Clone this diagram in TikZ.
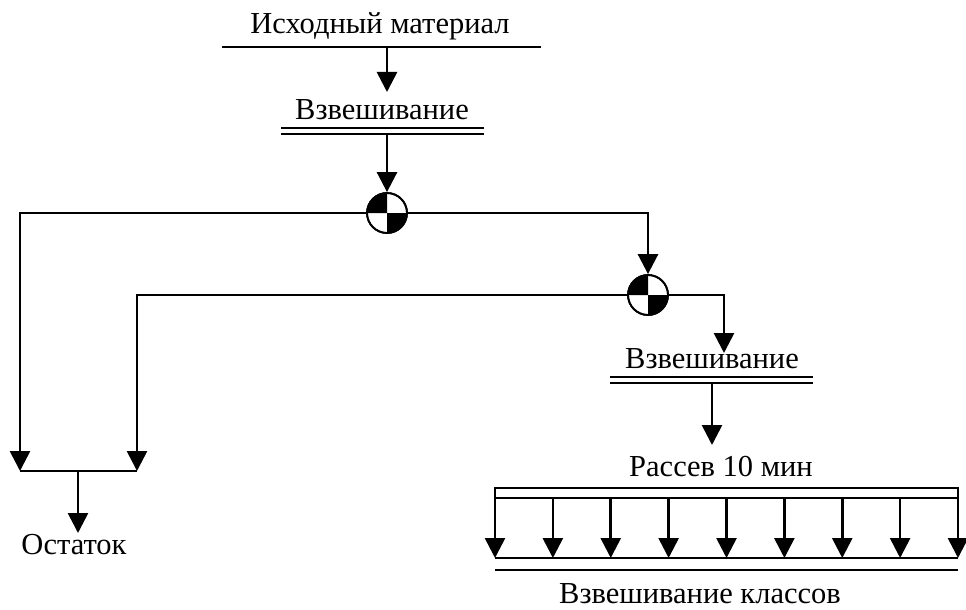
\documentclass[tikz,border=0pt]{standalone}
\usepackage{fontspec}
\setmainfont{Liberation Serif}
\usetikzlibrary{arrows.meta}

\begin{document}
\begin{tikzpicture}[x=1pt,y=-1pt,line width=2.7pt,
  flow/.style={-{Triangle[width=20pt,length=20pt]}},
  lbl/.style={inner sep=0pt,anchor=base,font=\fontsize{30.5}{36}\selectfont},
  bar/.style={double,double distance=3.5pt,line width=2.2pt},
  splitter/.style={circle,draw,line width=1.8pt,minimum size=40pt,inner sep=0pt},
]
\useasboundingbox (0,0) rectangle (966,610);

% sample splitter: two opposite quadrants filled
\newcommand{\splitfill}[1]{%
  \fill (#1.center) -- ++(-20pt,0pt) arc[start angle=180,end angle=90,radius=20pt] -- cycle;
  \fill (#1.center) -- ++(20pt,0pt) arc[start angle=0,end angle=-90,radius=20pt] -- cycle;
  \draw[line width=1.8pt] (#1) circle[radius=20pt];}

% source material
\node[lbl] (src) at (380,34) {Исходный материал};
\coordinate (srcL) at (222,47);
\coordinate (srcR) at (541,47);
\draw (srcL) -- (srcR);
\coordinate (srcOut) at (387,47);

% first weighing
\node[lbl] (w1) at (382,119) {Взвешивание};
\coordinate (w1in) at (387,92);
\draw[flow] (srcOut) -- (w1in);
\coordinate (w1L) at (281,131);
\coordinate (w1R) at (484,131);
\draw[bar] (w1L) -- (w1R);
\coordinate (w1out) at (387,134);

% first splitter
\node[splitter] (s1) at (387,213) {};
\splitfill{s1}
\draw[flow] (w1out) -- (s1.north);

% second splitter
\node[splitter] (s2) at (648,295) {};
\splitfill{s2}
\draw[flow] (s1.east) -| (s2.north);

% residue branch
\coordinate (rL) at (20,471);
\coordinate (rR) at (137,471);
\coordinate (rM) at (78,471);
\draw[flow] (s1.west) -| (rL);
\draw[flow] (s2.west) -| (rR);
\draw (rL) -- (rR);
\node[lbl] (rest) at (74,554) {Остаток};
\coordinate (restin) at (78,533);
\draw[flow] (rM) -- (restin);

% second weighing
\node[lbl] (w2) at (712,368) {Взвешивание};
\coordinate (w2in) at (724,353);
\draw[flow] (s2.east) -| (w2in);
\coordinate (w2L) at (610,380);
\coordinate (w2R) at (813,380);
\draw[bar] (w2L) -- (w2R);
\coordinate (w2out) at (712,383);

% sieving
\node[lbl] (sieve) at (721,476) {Рассев 10 мин};
\coordinate (sievein) at (712,445);
\draw[flow] (w2out) -- (sievein);
\draw (495,488) rectangle (958,498);
\foreach \i in {0,...,8} {
  \coordinate (f\i) at ({495+\i*57.875},498);
  \coordinate (t\i) at ({495+\i*57.875},558);
  \draw[flow] (f\i) -- (t\i);
}
\draw (t0) -- (t8);
\coordinate (cL) at (495,570);
\coordinate (cR) at (958,570);
\draw (cL) -- (cR);
\node[lbl] (classes) at (700,603) {Взвешивание классов};
\end{tikzpicture}
\end{document}
